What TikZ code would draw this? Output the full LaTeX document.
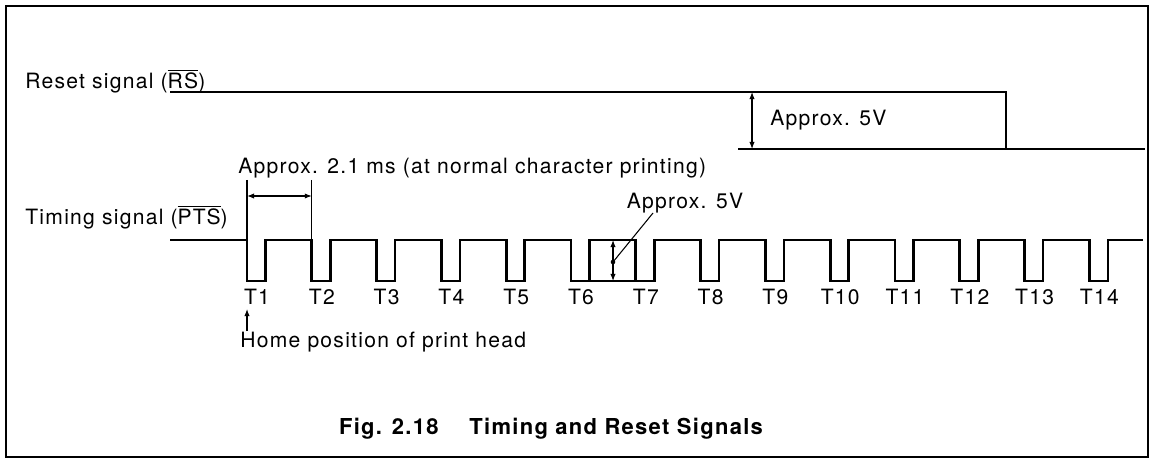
\documentclass[tikz,border=0pt]{standalone}
\usepackage{fontspec}
\setmainfont{TeX Gyre Heros}[LetterSpace=6]
\usetikzlibrary{arrows.meta}

\tikzset{
  wave/.style={line width=1.5pt, line join=miter},
  dimline/.style={line width=0.6pt},
  dimarrow/.style={dimline, {Latex[length=4pt,width=3pt]}-{Latex[length=4pt,width=3pt]}},
  lbl/.style={font=\fontsize{12}{14}\selectfont, inner sep=0pt}
}

\begin{document}
\begin{tikzpicture}[x=0.02cm, y=-0.02cm]
    \useasboundingbox (0,0) rectangle (1152,459);
    % Frame
    \draw[line width=0.8pt] (6,6) rectangle (1148,457);

    % Reset signal
    \node[lbl, anchor=west] (rslabel) at (25,81) {Reset signal ($\overline{\hbox{RS}}$)};
    \coordinate (rsstart) at (170,92);
    \coordinate (rsfall) at (1006,92);
    \coordinate (rslow) at (1006,149);
    \coordinate (rsend) at (1145,149);
    \draw[wave] (rsstart) -- (rsfall) -- (rslow) -- (rsend);
    \coordinate (rsref) at (738,149);
    \draw[dimline] (rsref) -- (rslow);
    \coordinate (rshi) at (752,92);
    \coordinate (rslo) at (752,149);
    \draw[dimarrow] (rshi) -- (rslo);
    \node[lbl, anchor=west] (rsvolt) at (770,120) {Approx. 5V};

    % Timing signal
    \node[lbl, anchor=west] (ptslabel) at (25,217) {Timing signal ($\overline{\hbox{PTS}}$)};
    \draw[wave] (170,240)
        foreach \k in {1,...,14} {
            -- ({247+64.8*(\k-1)},240) -- ++(0,41) -- ++(18.5,0) -- ++(0,-41)
        } -- (1143,240);
    \foreach \k in {1,...,14} {
        \pgfmathsetmacro{\xt}{257+64.8*(\k-1)}
        \node[lbl] (t\k) at (\xt,297) {T\k};
    }

    % Period
    \coordinate (pa) at (247,180);
    \coordinate (pb) at (311.8,180);
    \draw[dimline] (pa) -- (247,240);
    \draw[dimline] (pb) -- (311.8,240);
    \draw[dimarrow] (247,196) -- (311.8,196);
    \node[lbl, anchor=west] (period) at (238,168) {Approx. 2.1 ms (at normal character printing)};

    % Pulse height
    \coordinate (bxa) at (589.5,281);
    \coordinate (bxb) at (635.8,281);
    \draw[dimline] (bxa) -- (bxb);
    \coordinate (vhi) at (613,240);
    \coordinate (vlo) at (613,281);
    \draw[dimarrow] (vhi) -- (vlo);
    \node[lbl] (ptsvolt) at (685,203) {Approx. 5V};
    \coordinate (vdot) at (613,262);
    \fill (vdot) circle (1.3pt);
    \draw[dimline] (vdot) -- (653,213);

    % Home position
    \node[lbl, anchor=west] (home) at (240,342) {Home position of print head};
    \coordinate (homebot) at (247,331);
    \coordinate (hometop) at (247,309);
    \draw[dimline, -{Latex[length=4pt,width=3pt]}] (homebot) -- (hometop);

    % Caption
    \node[lbl, font=\fontsize{12.5}{14}\selectfont\bfseries] (caption) at (551,429) {Fig. 2.18\hspace{1.4em}Timing and Reset Signals};
\end{tikzpicture}
\end{document}
